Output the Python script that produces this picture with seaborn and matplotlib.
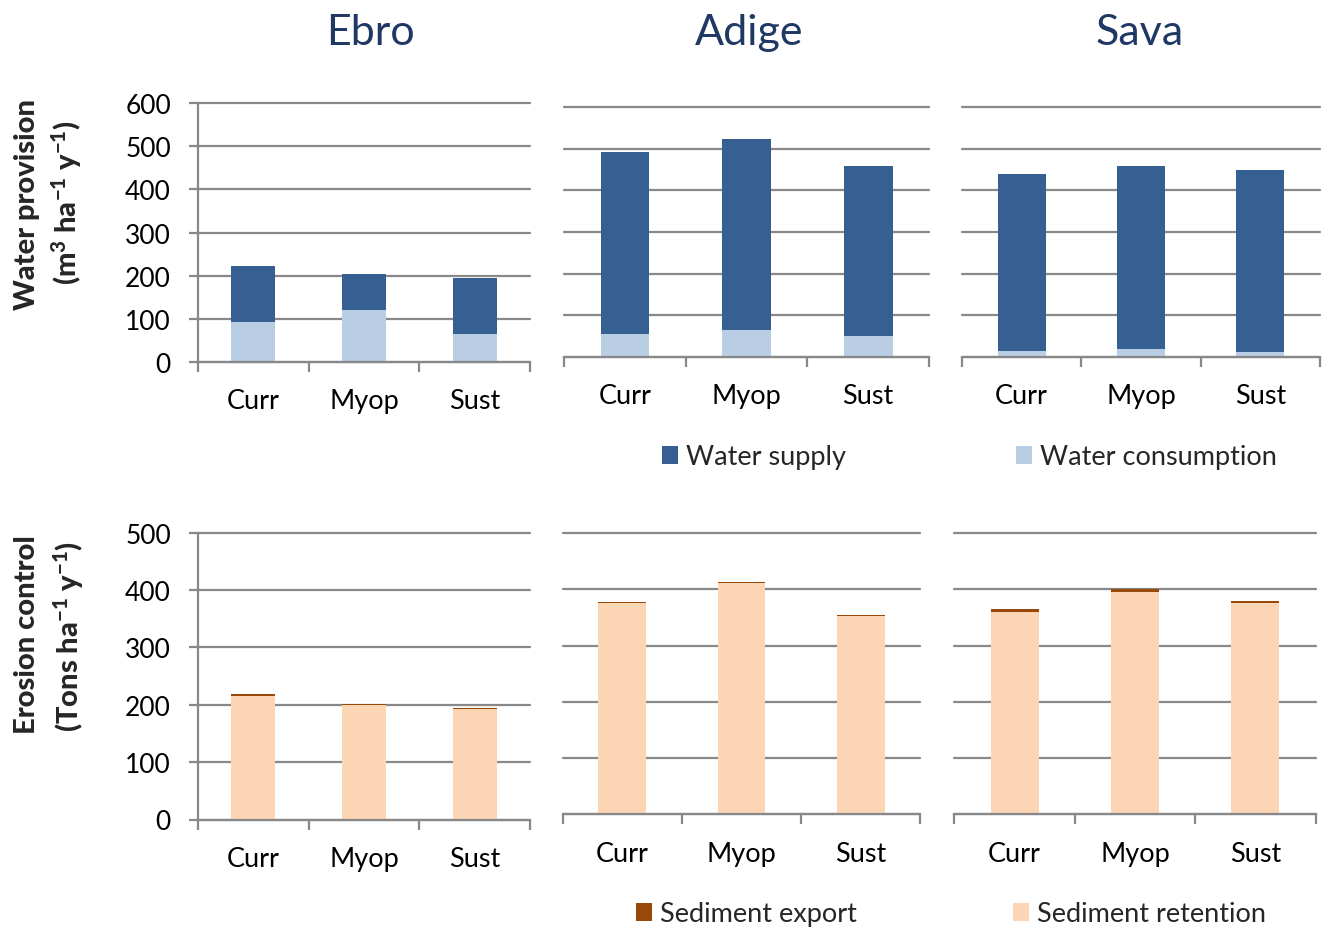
import matplotlib
matplotlib.use("Agg")
import matplotlib.pyplot as plt
from matplotlib.patches import Patch
import pandas as pd
import seaborn as sns

# ---- data -------------------------------------------------------------
basins = ["Ebro", "Adige", "Sava"]
scenarios = ["Curr", "Myop", "Sust"]

# water provision (m3 ha-1 y-1): consumption at the base, supply stacked on top
ebro_water_consumption = [92, 121, 64]
ebro_water_supply = [130, 83, 130]
adige_water_consumption = [56, 65, 51]
adige_water_supply = [436, 458, 407]
sava_water_consumption = [15, 18, 11]
sava_water_supply = [425, 441, 439]

# erosion control (tons ha-1 y-1): retention at the base, export stacked on top
ebro_sediment_retention = [216, 200, 193]
ebro_sediment_export = [2, 2, 1.5]
adige_sediment_retention = [375.5, 411.5, 352]
adige_sediment_export = [1.5, 1.5, 1.5]
sava_sediment_retention = [360, 395, 375]
sava_sediment_export = [5, 6, 5]

water_ticks = [0, 100, 200, 300, 400, 500, 600]
erosion_ticks = [0, 100, 200, 300, 400, 500]

# ---- style ------------------------------------------------------------
SUPPLY = "#376092"
CONSUMPTION = "#B9CDE5"
EXPORT = "#984807"
RETENTION = "#FCD5B5"
GRID = "#888888"
TITLE = "#1F3864"

sns.set_style("white")
plt.rcParams["font.family"] = ["Lato", "DejaVu Sans"]
plt.rcParams["mathtext.fontset"] = "custom"
plt.rcParams["mathtext.rm"] = "Lato"
plt.rcParams["mathtext.bf"] = "Lato:black"
plt.rcParams["mathtext.default"] = "bf"

W, H = 1322, 928
fig = plt.figure(figsize=(W / 100, H / 100), dpi=100)
fig.patch.set_facecolor("white")

TICK_SIZE = 19.5


def box(x0, x1, ytop, ybot):
    """Axes rectangle from pixel edges (origin at top-left)."""
    return [x0 / W, 1 - ybot / H, (x1 - x0) / W, (ybot - ytop) / H]


def stacked(ax, lower, upper, c_low, c_up, ticks, show_y):
    frame = pd.DataFrame({"scenario": scenarios, "lower": lower, "upper": upper})
    frame["total"] = frame["lower"] + frame["upper"]
    sns.barplot(data=frame, x="scenario", y="total", color=c_up, saturation=1,
                width=0.4, errorbar=None, linewidth=0, ax=ax)
    sns.barplot(data=frame, x="scenario", y="lower", color=c_low, saturation=1,
                width=0.4, errorbar=None, linewidth=0, ax=ax)
    ax.set_xlim(-0.5, 2.5)
    ax.set_ylim(ticks[0], ticks[-1])
    ax.set_yticks(ticks)
    ax.set_xlabel("")
    ax.set_ylabel("")
    ax.set_axisbelow(True)
    ax.grid(axis="y", color=GRID, linewidth=1.6)
    ax.grid(axis="x", visible=False)
    for gl in ax.get_ygridlines():
        gl.set_clip_on(False)
    for side in ("top", "right"):
        ax.spines[side].set_visible(False)
    ax.spines["bottom"].set_color(GRID)
    ax.spines["bottom"].set_linewidth(1.6)
    ax.set_xticks([0, 1, 2], scenarios)
    ax.set_xticks([-0.5, 0.5, 1.5, 2.5], minor=True)
    ax.tick_params(axis="x", which="major", length=0, pad=19, labelsize=TICK_SIZE,
                   labelcolor="black")
    ax.tick_params(axis="x", which="minor", length=7, width=1.6, color=GRID,
                   direction="out", bottom=True)
    if show_y:
        ax.spines["left"].set_color(GRID)
        ax.spines["left"].set_linewidth(1.6)
        ax.tick_params(axis="y", length=6.5, width=1.6, color=GRID,
                       direction="out", left=True, labelsize=19, pad=13,
                       labelcolor="black")
    else:
        ax.spines["left"].set_visible(False)
        ax.tick_params(axis="y", length=0, labelleft=False)


# top row: water provision
ax = fig.add_axes(box(198, 530, 104.3, 362.7))
stacked(ax, ebro_water_consumption, ebro_water_supply, CONSUMPTION, SUPPLY, water_ticks, True)
ax = fig.add_axes(box(564, 929, 108.3, 357.8))
stacked(ax, adige_water_consumption, adige_water_supply, CONSUMPTION, SUPPLY, water_ticks, False)
ax = fig.add_axes(box(962, 1320, 108.3, 357.8))
stacked(ax, sava_water_consumption, sava_water_supply, CONSUMPTION, SUPPLY, water_ticks, False)

# bottom row: erosion control
ax = fig.add_axes(box(198, 530, 533.7, 820.5))
stacked(ax, ebro_sediment_retention, ebro_sediment_export, RETENTION, EXPORT, erosion_ticks, True)
ax = fig.add_axes(box(562.5, 920.5, 534, 815.3))
stacked(ax, adige_sediment_retention, adige_sediment_export, RETENTION, EXPORT, erosion_ticks, False)
ax = fig.add_axes(box(954.5, 1315.5, 534, 815.3))
stacked(ax, sava_sediment_retention, sava_sediment_export, RETENTION, EXPORT, erosion_ticks, False)

# basin titles
for name, cx in zip(basins, [370, 749, 1140]):
    fig.text(cx / W, 1 - 45 / H, name, ha="center", va="baseline",
             fontsize=31, color=TITLE)

# row labels
LABEL_SIZE = 21
fig.text(27 / W, 1 - 205 / H, "Water provision", rotation=90, ha="center",
         va="center", fontsize=LABEL_SIZE, fontweight="black")
fig.text(67 / W, 1 - 203 / H, r"(m$^{3}$ ha$^{-1}$ y$^{-1}$)", rotation=90,
         ha="center", va="center", fontsize=LABEL_SIZE, fontweight="black")
fig.text(27 / W, 1 - 635 / H, "Erosion control", rotation=90, ha="center",
         va="center", fontsize=LABEL_SIZE, fontweight="black")
fig.text(69 / W, 1 - 636 / H, r"(Tons ha$^{-1}$ y$^{-1}$)", rotation=90,
         ha="center", va="center", fontsize=LABEL_SIZE, fontweight="black")


def legend_entry(label, color, x, y):
    fig.legend(handles=[Patch(facecolor=color, edgecolor="none", label=label)],
               loc="center left", bbox_to_anchor=(x / W, 1 - y / H),
               frameon=False, borderpad=0, borderaxespad=0,
               handlelength=0.6, handleheight=0.6, handletextpad=0.3,
               fontsize=TICK_SIZE)


legend_entry("Water supply", SUPPLY, 662, 458)
legend_entry("Water consumption", CONSUMPTION, 1016, 458)
legend_entry("Sediment export", EXPORT, 636, 915)
legend_entry("Sediment retention", RETENTION, 1013, 915)

fig.savefig("out.png", dpi=100, facecolor="white")
